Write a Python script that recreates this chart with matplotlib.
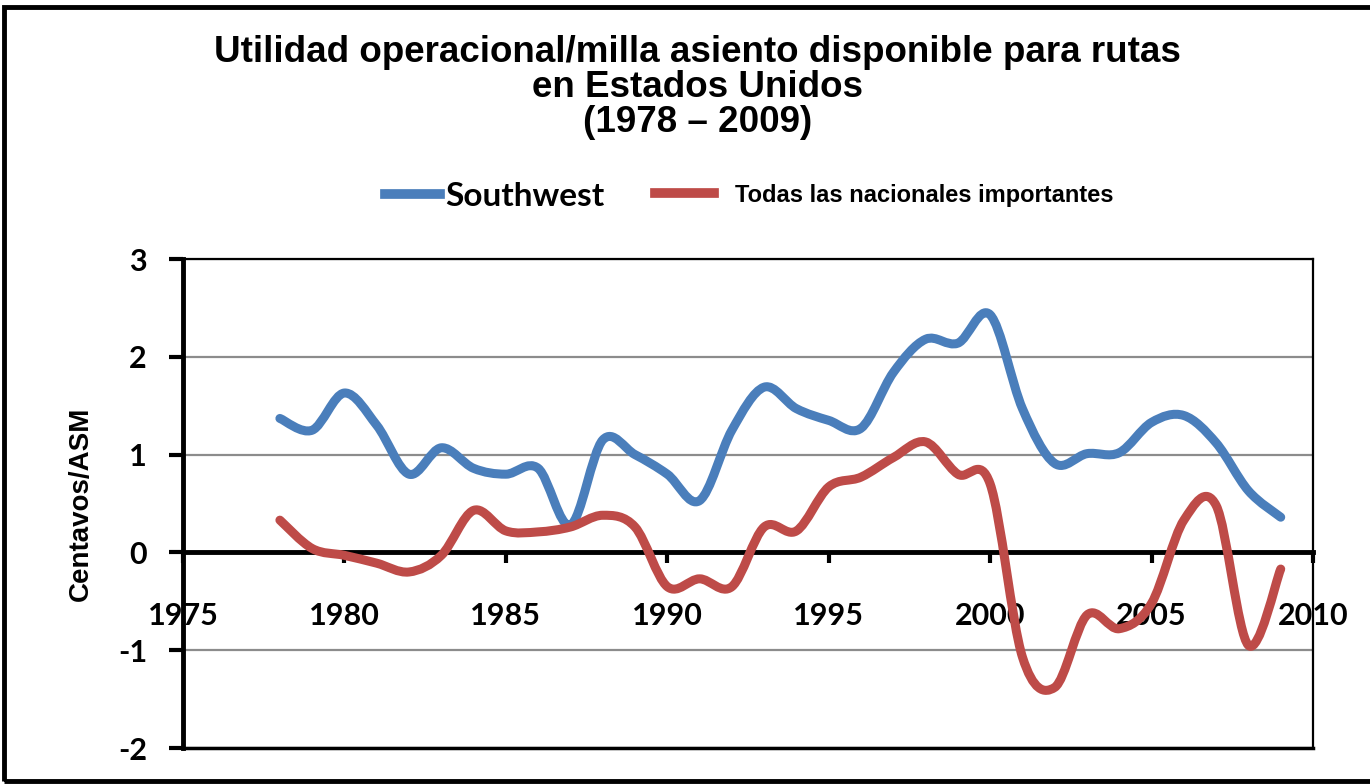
import numpy as np
import matplotlib
matplotlib.use("Agg")
import matplotlib.pyplot as plt
from matplotlib.path import Path
from matplotlib.patches import PathPatch, Rectangle
from matplotlib.lines import Line2D

plt.rcParams['axes.unicode_minus'] = False

# Datos (centavos por ASM)
anios = np.arange(1978, 2010)
southwest = [1.37, 1.25, 1.63, 1.30, 0.80, 1.07, 0.86, 0.80, 0.86, 0.28,
             1.15, 1.00, 0.80, 0.53, 1.25, 1.69, 1.47, 1.35, 1.27, 1.84,
             2.18, 2.14, 2.43, 1.47, 0.91, 1.01, 1.02, 1.33, 1.40, 1.12,
             0.63, 0.36]
nacionales = [0.33, 0.04, -0.03, -0.11, -0.20, -0.03, 0.43, 0.22, 0.21, 0.26,
              0.38, 0.26, -0.35, -0.27, -0.35, 0.26, 0.22, 0.67, 0.77, 0.97,
              1.13, 0.80, 0.70, -1.07, -1.38, -0.64, -0.78, -0.52, 0.33, 0.48,
              -0.95, -0.17]

azul = '#4a7ebb'
rojo = '#be4b48'


def curva_suave(xs, ys):
    # curva tipo "linea suavizada" de Excel (Catmull-Rom -> Bezier)
    p = np.column_stack([xs, ys]).astype(float)
    n = len(p)
    verts = [p[0]]
    codes = [Path.MOVETO]
    for i in range(n - 1):
        p0 = p[i - 1] if i > 0 else p[i]
        p1 = p[i]
        p2 = p[i + 1]
        p3 = p[i + 2] if i + 2 < n else p[i + 1]
        verts += [p1 + (p2 - p0) / 6, p2 - (p3 - p1) / 6, p2]
        codes += [Path.CURVE4] * 3
    return Path(verts, codes)


fig = plt.figure(figsize=(13.7, 7.84), dpi=100)
ax = fig.add_axes([0.1336, 0.0459, 0.8248, 0.6237])

for serie, color in [(southwest, azul), (nacionales, rojo)]:
    ax.add_patch(PathPatch(curva_suave(anios, serie), fill=False, edgecolor=color,
                           lw=6.5, capstyle='round', joinstyle='round', zorder=3))

ax.set_xlim(1975, 2010)
ax.set_ylim(-2, 3)
ax.set_xticks(range(1975, 2011, 5))
ax.set_yticks(range(-2, 4))

ax.yaxis.grid(True, color='#8c8c8c', lw=1.6)
ax.set_axisbelow(True)

ax.spines['bottom'].set_position(('data', 0))
ax.spines['bottom'].set_linewidth(3.5)
ax.spines['left'].set_linewidth(3.5)
ax.spines['top'].set_linewidth(1.6)
ax.spines['right'].set_linewidth(1.6)
ax.axhline(-2, color='black', lw=2.5, clip_on=False, zorder=2.5)

ax.tick_params(axis='x', direction='out', length=8, width=3, pad=28)
ax.tick_params(axis='y', direction='out', length=10, width=3, pad=16)
for lab in ax.get_xticklabels() + ax.get_yticklabels():
    lab.set_fontfamily('Lato')
    lab.set_fontweight('bold')
    lab.set_fontsize(22)

ax.set_ylabel('Centavos/ASM', fontsize=20, fontweight='bold',
              family='Liberation Sans', labelpad=0)
ax.yaxis.set_label_coords(-0.079, 0.5)

fig.text(0.509, 0.888, 'Utilidad operacional/milla asiento disponible para rutas\n'
         'en Estados Unidos\n(1978 \u2013 2009)', ha='center', va='center',
         fontsize=26.5, fontweight='bold', family='Liberation Sans', linespacing=1.0)

# leyenda: dos entradas con tipos de letra distintos
leg1 = fig.legend([Line2D([], [], color=azul, lw=7)], ['Southwest'],
                  loc='center left', bbox_to_anchor=(385 / 1370, 0.750), frameon=False,
                  borderpad=0, borderaxespad=0, handlelength=1.65, handletextpad=0.15,
                  prop={'family': 'Lato', 'weight': 'bold', 'size': 24})
leg2 = fig.legend([Line2D([], [], color=rojo, lw=7)], ['Todas las nacionales importantes'],
                  loc='center left', bbox_to_anchor=(655 / 1370, 0.751), frameon=False,
                  borderpad=0, borderaxespad=0, handlelength=2.5, handletextpad=0.9,
                  prop={'family': 'Liberation Sans', 'weight': 'bold', 'size': 17})

# marco exterior de la figura
fig.patches.append(Rectangle((0.003, 0.004), 1.2, 0.987, transform=fig.transFigure,
                             fill=False, edgecolor='black', lw=3.5))

fig.savefig('out.png', dpi=100)
